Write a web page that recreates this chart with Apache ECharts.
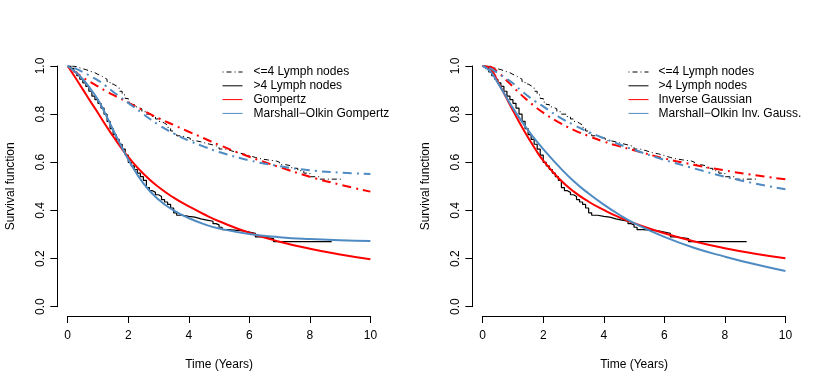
<!DOCTYPE html>
<html>
<head>
<meta charset="utf-8">
<script src="https://cdn.jsdelivr.net/npm/echarts@6/dist/echarts.min.js"></script>
<style>
html,body{margin:0;padding:0;background:#fff;}
#c{width:830px;height:388px;}
</style>
</head>
<body>
<div id="c"></div>
<script>
// ---- Data ----
const xTickLabels = ['0', '2', '4', '6', '8', '10'];
const yTickLabels = ['0.0', '0.2', '0.4', '0.6', '0.8', '1.0'];

// Kaplan-Meier, <=4 lymph nodes (step function)
const kmLe4T = [0, 0.15, 0.3, 0.45, 0.6, 0.75, 0.9, 1.0, 1.1, 1.2, 1.3, 1.4, 1.5, 1.6, 1.7, 1.8, 1.9, 2.0, 2.1, 2.2, 2.3, 2.45, 2.6, 2.75, 2.9, 3.0, 3.1, 3.2, 3.3, 3.4, 3.5, 3.6, 3.75, 3.9, 4.05, 4.2, 4.4, 4.6, 4.8, 5.0, 5.2, 5.4, 5.6, 5.8, 6.0, 6.2, 6.4, 6.6, 6.9, 7.0, 7.2, 7.4, 7.6, 7.8, 8.0, 8.3, 9.1];
const kmLe4S = [1, 0.997, 0.99, 0.985, 0.978, 0.972, 0.965, 0.96, 0.952, 0.945, 0.935, 0.925, 0.918, 0.91, 0.895, 0.88, 0.865, 0.85, 0.84, 0.83, 0.822, 0.81, 0.8, 0.79, 0.78, 0.77, 0.762, 0.755, 0.745, 0.73, 0.72, 0.71, 0.705, 0.7, 0.69, 0.685, 0.678, 0.672, 0.665, 0.655, 0.648, 0.64, 0.635, 0.628, 0.62, 0.614, 0.61, 0.605, 0.6, 0.59, 0.585, 0.575, 0.565, 0.555, 0.54, 0.53, 0.528];

// Kaplan-Meier, >4 lymph nodes (step function)
const kmGt4T = [0, 0.1, 0.2, 0.3, 0.4, 0.5, 0.6, 0.7, 0.8, 0.9, 1.0, 1.1, 1.2, 1.3, 1.4, 1.5, 1.6, 1.7, 1.8, 1.9, 2.0, 2.1, 2.2, 2.3, 2.4, 2.5, 2.6, 2.7, 2.8, 2.9, 3.0, 3.1, 3.2, 3.3, 3.4, 3.5, 3.6, 3.8, 4.0, 4.2, 4.4, 4.6, 4.8, 4.9, 5.0, 5.1, 5.3, 5.5, 5.8, 6.0, 6.2, 6.4, 6.5, 6.8, 8.72];
const kmGt4S = [1, 0.99, 0.975, 0.96, 0.945, 0.93, 0.915, 0.895, 0.875, 0.86, 0.845, 0.825, 0.8, 0.77, 0.74, 0.715, 0.695, 0.675, 0.655, 0.63, 0.6, 0.585, 0.57, 0.555, 0.54, 0.525, 0.495, 0.482, 0.475, 0.465, 0.458, 0.445, 0.435, 0.425, 0.41, 0.39, 0.38, 0.375, 0.372, 0.365, 0.36, 0.355, 0.345, 0.34, 0.33, 0.32, 0.318, 0.315, 0.31, 0.305, 0.29, 0.288, 0.283, 0.27, 0.27];

// Times at which the fitted curves were read
const fitT = [0, 0.25, 0.5, 0.75, 1, 1.25, 1.5, 1.75, 2, 2.5, 3, 3.5, 4, 4.5, 5, 6, 7, 8, 9, 10];

// Left panel fits
const gompGt4   = [1, 0.952, 0.903, 0.853, 0.805, 0.755, 0.708, 0.663, 0.622, 0.552, 0.497, 0.453, 0.417, 0.384, 0.355, 0.307, 0.27, 0.241, 0.217, 0.197];
const moGompGt4 = [1, 0.975, 0.945, 0.905, 0.86, 0.80, 0.735, 0.672, 0.612, 0.512, 0.445, 0.40, 0.368, 0.343, 0.325, 0.302, 0.289, 0.281, 0.276, 0.273];
const gompLe4   = [1, 0.975, 0.952, 0.933, 0.915, 0.897, 0.88, 0.864, 0.848, 0.815, 0.783, 0.755, 0.727, 0.70, 0.672, 0.623, 0.58, 0.54, 0.507, 0.478];
const moGompLe4 = [1, 0.99, 0.975, 0.958, 0.94, 0.918, 0.893, 0.87, 0.847, 0.80, 0.756, 0.72, 0.69, 0.665, 0.643, 0.608, 0.584, 0.567, 0.557, 0.551];

// Right panel fits
const igGt4   = [1, 0.99, 0.935, 0.875, 0.815, 0.757, 0.703, 0.652, 0.607, 0.535, 0.479, 0.436, 0.402, 0.372, 0.347, 0.305, 0.271, 0.243, 0.22, 0.201];
const moIgGt4 = [1, 0.978, 0.93, 0.877, 0.825, 0.777, 0.733, 0.692, 0.655, 0.585, 0.522, 0.47, 0.424, 0.383, 0.347, 0.29, 0.244, 0.208, 0.176, 0.148];
const igLe4   = [1, 0.997, 0.975, 0.945, 0.914, 0.883, 0.855, 0.829, 0.806, 0.767, 0.735, 0.709, 0.686, 0.667, 0.65, 0.616, 0.589, 0.566, 0.546, 0.529];
const moIgLe4 = [1, 0.99, 0.97, 0.95, 0.928, 0.9, 0.875, 0.852, 0.832, 0.79, 0.756, 0.726, 0.70, 0.675, 0.652, 0.61, 0.574, 0.54, 0.512, 0.488];

const nameLe4 = '<=4 Lymph nodes';
const nameGt4 = '>4 Lymph nodes';
const leftFitNames = ['Gompertz', 'Marshall\u2212Olkin Gompertz'];
const rightFitNames = ['Inverse Gaussian', 'Marshall\u2212Olkin Inv. Gauss.'];

// ---- Chart ----
const FONT = '"Liberation Sans", Arial, Helvetica, sans-serif';
const RED = '#FF0000';
const BLUE = '#4F8BC3';
const DASHDOT_THIN = [1, 3, 5, 3];
const DASHDOT_THICK = [2, 5, 9, 5];

function pairs(xs, ys) { return xs.map((x, i) => [x, ys[i]]); }

function mkLine(name, xs, ys, gi, color, width, dash, step) {
  const s = {
    type: 'line', name: name, xAxisIndex: gi, yAxisIndex: gi,
    data: pairs(xs, ys), symbol: 'none', showSymbol: false,
    lineStyle: { color: color, width: width, type: dash || 'solid', cap: 'butt' },
    itemStyle: { color: color },
    emphasis: { disabled: true }, silent: true, z: 2
  };
  if (step) s.step = 'end'; else s.smooth = true;
  return s;
}

const grids = [
  { left: 67.7, top: 66, width: 302.7, height: 240.7 },
  { left: 482.7, top: 66, width: 302.7, height: 240.7 }
];

function mkX(gi) {
  return {
    gridIndex: gi, type: 'value', min: 0, max: 10, interval: 2, offset: 9.3,
    axisLine: { show: true, onZero: false, lineStyle: { color: '#000', width: 1 } },
    axisTick: { show: true, length: 7, lineStyle: { color: '#000', width: 1 } },
    axisLabel: { color: '#000', fontSize: 12, fontFamily: FONT, margin: 14,
      formatter: v => xTickLabels[Math.round(v / 2)] },
    splitLine: { show: false },
    name: 'Time (Years)', nameLocation: 'middle', nameGap: 43,
    nameTextStyle: { color: '#000', fontSize: 12, fontFamily: FONT }
  };
}
function mkY(gi) {
  return {
    gridIndex: gi, type: 'value', min: 0, max: 1, interval: 0.2, offset: 10.4,
    axisLine: { show: true, onZero: false, lineStyle: { color: '#000', width: 1 } },
    axisTick: { show: true, length: 7, lineStyle: { color: '#000', width: 1 } },
    axisLabel: { color: '#000', fontSize: 12, fontFamily: FONT, margin: 11, rotate: 90,
      formatter: v => yTickLabels[Math.round(v * 5)] },
    splitLine: { show: false },
    name: 'Survival function', nameLocation: 'middle', nameGap: 41, nameRotate: 90,
    nameTextStyle: { color: '#000', fontSize: 12, fontFamily: FONT }
  };
}

const series = [
  // left panel
  mkLine(nameLe4, kmLe4T, kmLe4S, 0, '#000', 1, DASHDOT_THIN, true),
  mkLine(nameGt4, kmGt4T, kmGt4S, 0, '#000', 1.2, 'solid', true),
  mkLine(leftFitNames[0], fitT, gompGt4, 0, RED, 2, 'solid'),
  mkLine(leftFitNames[0], fitT, gompLe4, 0, RED, 2, DASHDOT_THICK),
  mkLine(leftFitNames[1], fitT, moGompGt4, 0, BLUE, 2, 'solid'),
  mkLine(leftFitNames[1], fitT, moGompLe4, 0, BLUE, 2, DASHDOT_THICK),
  // right panel
  mkLine(nameLe4, kmLe4T, kmLe4S, 1, '#000', 1, DASHDOT_THIN, true),
  mkLine(nameGt4, kmGt4T, kmGt4S, 1, '#000', 1.2, 'solid', true),
  mkLine(rightFitNames[0], fitT, igGt4, 1, RED, 2, 'solid'),
  mkLine(rightFitNames[0], fitT, igLe4, 1, RED, 2, DASHDOT_THICK),
  mkLine(rightFitNames[1], fitT, moIgGt4, 1, BLUE, 2, 'solid'),
  mkLine(rightFitNames[1], fitT, moIgLe4, 1, BLUE, 2, DASHDOT_THICK)
];

function mkLegend(left, names, pad) {
  return {
    orient: 'vertical', left: left, top: 66, itemWidth: 20, itemHeight: 12, itemGap: 1.8,
    selectedMode: false, padding: 0,
    data: names,
    lineStyle: { width: 1 },
    itemStyle: { opacity: 0 },
    textStyle: { color: '#000', fontSize: 12, fontFamily: FONT, padding: [0, 0, 0, pad], lineHeight: 12 }
  };
}

const option = {
  animation: false,
  backgroundColor: '#fff',
  grid: grids,
  xAxis: [mkX(0), mkX(1)],
  yAxis: [mkY(0), mkY(1)],
  legend: [
    mkLegend(222, [nameLe4, nameGt4].concat(leftFitNames), 6),
    mkLegend(628, [nameLe4, nameGt4].concat(rightFitNames), 5)
  ],
  series: series
};

const chart = echarts.init(document.getElementById('c'), null, { renderer: 'canvas' });
chart.setOption(option);
</script>
</body>
</html>
